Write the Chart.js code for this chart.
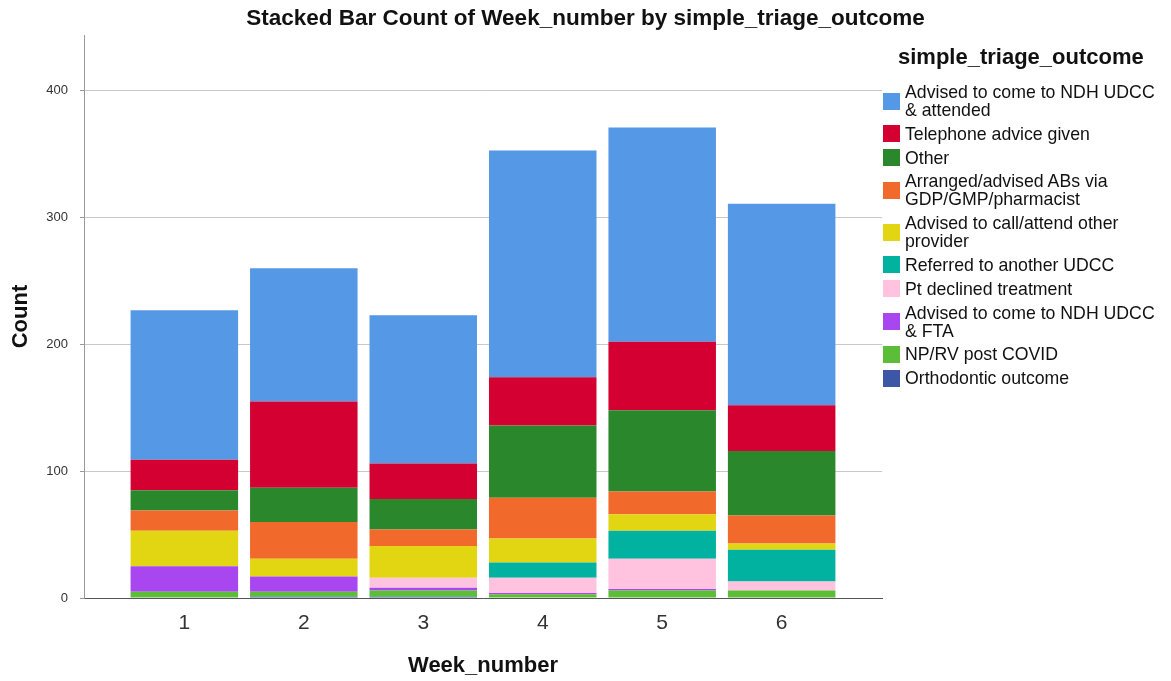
<!DOCTYPE html>
<html>
<head>
<meta charset="utf-8">
<script src="https://cdn.jsdelivr.net/npm/chart.js@4"></script>
<style>
  body { margin: 0; background: #fff; font-family: "Liberation Sans", Arial, sans-serif; }
  #wrap { position: relative; width: 1171px; height: 681px; }
  #legend { position: absolute; left: 883px; top: 44px; width: 288px; color: #111; }
  #legend .ttl { font-weight: bold; font-size: 22px; line-height: 26px; margin-left: 15px; margin-bottom: 13px; }
  #legend .item { display: flex; align-items: center; font-size: 17.7px; line-height: 18px; margin-bottom: 5.8px; }
  #legend .box { width: 17px; height: 17px; flex: none; margin-right: 5px; }
  #legend .txt { width: 264px; }
</style>
</head>
<body>
<div id="wrap">
  <canvas id="chart" width="1171" height="681"></canvas>
  <div id="legend"></div>
</div>
<script>
// Week numbers along the x axis
const weeks = [1, 2, 3, 4, 5, 6];

// counts per outcome, one entry per week (legend order, top of stack first)
const attended      = [118, 105, 117, 179, 169, 159];
const telephone     = [24, 68, 28, 38, 54, 36];
const other         = [16, 27, 24, 57, 64, 51];
const antibiotics   = [16, 29, 13, 32, 18, 22];
const otherProvider = [28, 14, 25, 19, 13, 5];
const referred      = [0, 0, 0, 12, 22, 25];
const declined      = [0, 0, 8, 12, 24, 7];
const fta           = [20, 12, 2, 1, 1, 0];
const covid         = [5, 4, 5, 3, 6, 6];
const orthodontic   = [0, 1, 1, 0, 0, 0];

const outcomeNames = [
    "Advised to come to NDH UDCC & attended",
    "Telephone advice given",
    "Other",
    "Arranged/advised ABs via GDP/GMP/pharmacist",
    "Advised to call/attend other provider",
    "Referred to another UDCC",
    "Pt declined treatment",
    "Advised to come to NDH UDCC & FTA",
    "NP/RV post COVID",
    "Orthodontic outcome"
];
const outcomeValues = [attended, telephone, other, antibiotics, otherProvider,
    referred, declined, fta, covid, orthodontic];
const outcomeColors = ["#5598E5", "#D50032", "#2B872B", "#F2692C", "#E2D511",
    "#00B29F", "#FFC3E0", "#A847EF", "#5CBE38", "#3D57A6"];

const FONT = "'Liberation Sans', Arial, sans-serif";

// Chart.js stacks from the first dataset upward, so reverse the legend order
const datasets = outcomeNames.map((name, i) => ({
    label: name,
    data: weeks.map((w, j) => ({ x: w, y: outcomeValues[i][j] })),
    backgroundColor: outcomeColors[i],
    borderWidth: 0
})).reverse();

new Chart(document.getElementById("chart").getContext("2d"), {
    type: "bar",
    data: { datasets: datasets },
    options: {
        responsive: false,
        animation: false,
        layout: { padding: 0 },
        datasets: { bar: { categoryPercentage: 1, barPercentage: 0.9 } },
        plugins: {
            legend: { display: false },
            tooltip: { enabled: false },
            title: {
                display: true,
                text: "Stacked Bar Count of Week_number by simple_triage_outcome",
                color: "#111",
                font: { family: FONT, size: 22.5, weight: "bold" },
                padding: { top: 5, bottom: 3 }
            }
        },
        scales: {
            x: {
                type: "linear",
                stacked: true,
                offset: false,
                min: 0.16,
                max: 6.84,
                afterBuildTicks: s => { s.ticks = weeks.map(v => ({ value: v })); },
                afterFit: s => { s.height = 83; },
                grid: { display: false },
                border: { display: true, color: "#555", width: 1 },
                ticks: { color: "#333", font: { family: FONT, size: 21 }, padding: 5 },
                title: {
                    display: true, text: "Week_number", color: "#111",
                    font: { family: FONT, size: 22, weight: "bold" },
                    padding: { top: 0, bottom: 2 }
                }
            },
            y: {
                stacked: true,
                min: 0,
                max: 444,
                afterBuildTicks: s => { s.ticks = [0, 100, 200, 300, 400].map(v => ({ value: v })); },
                afterFit: s => { s.width = 84; },
                grid: { color: "#c8c8c8", tickLength: 4, drawTicks: true, tickColor: "#999" },
                border: { display: true, color: "#999", width: 1 },
                ticks: { color: "#333", font: { family: FONT, size: 13 }, padding: 12 },
                title: {
                    display: true, text: "Count", color: "#111",
                    font: { family: FONT, size: 22, weight: "bold" },
                    padding: { top: 8, bottom: 0 }
                }
            },
            // empty axis on the right that keeps room for the html legend
            legendSpace: {
                type: "linear",
                position: "right",
                display: true,
                afterFit: s => { s.width = 289; },
                grid: { display: false },
                border: { display: false },
                ticks: { display: false }
            }
        }
    }
});

// legend drawn as html so the long names wrap like the original
const legend = document.getElementById("legend");
legend.innerHTML = '<div class="ttl">simple_triage_outcome</div>';
outcomeNames.forEach((name, i) => {
    const item = document.createElement("div");
    item.className = "item";
    item.innerHTML = '<div class="box" style="background:' + outcomeColors[i] + '"></div><div class="txt">' +
        name.replace(/&/g, "&amp;") + '</div>';
    legend.appendChild(item);
});
</script>
</body>
</html>
